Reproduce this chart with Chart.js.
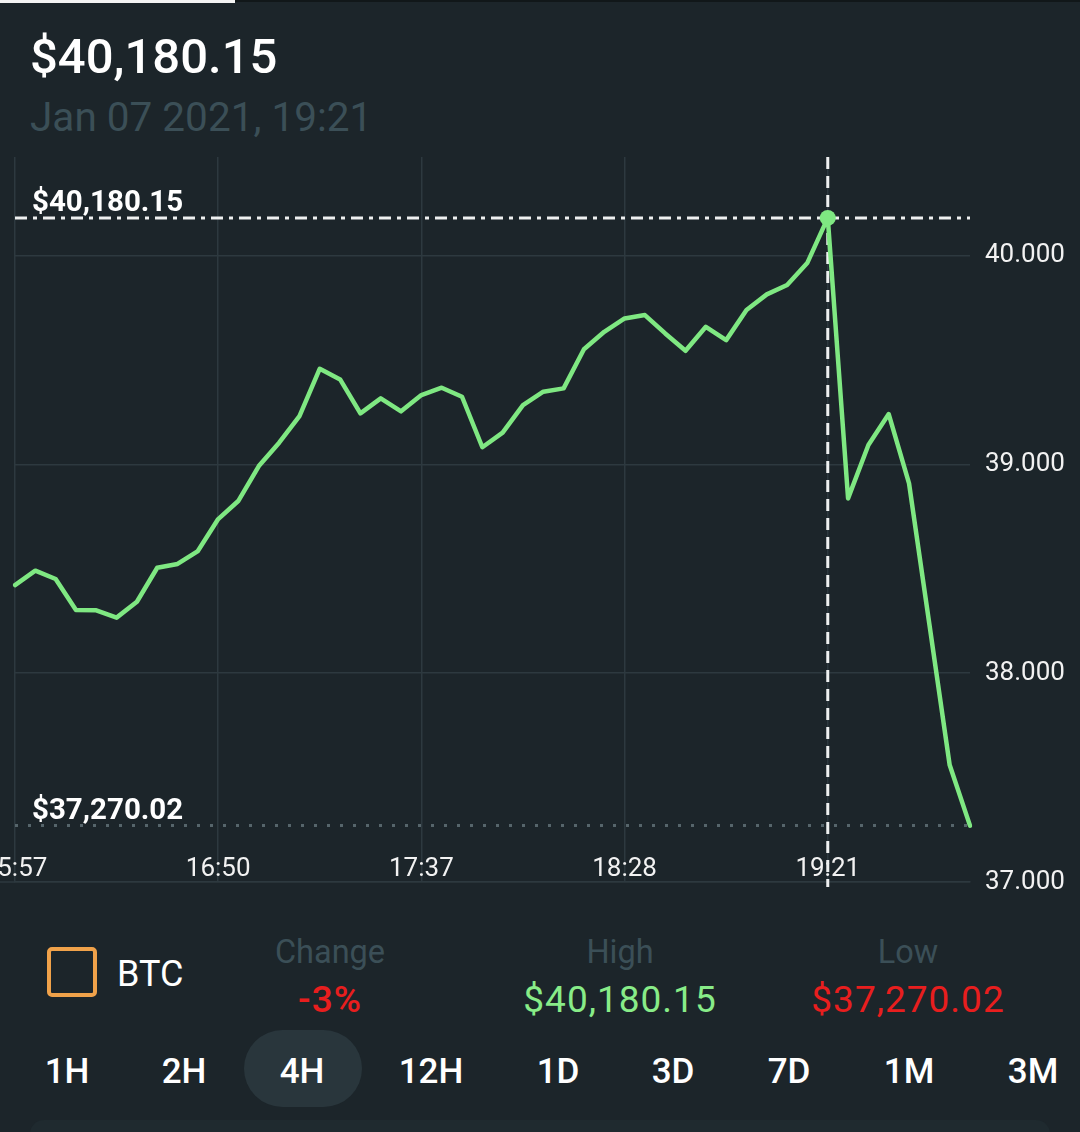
<!DOCTYPE html>
<html>
<head>
<meta charset="utf-8">
<script src="https://cdn.jsdelivr.net/npm/chart.js@4.4.1/dist/chart.umd.min.js"></script>
<style>
  html, body { margin:0; padding:0; }
  body { width:1080px; height:1132px; background:#1c252a; position:relative; overflow:hidden; font-family:Roboto, sans-serif; }
  .t { position:absolute; white-space:nowrap; }
  .c { transform:translateX(-50%); }
  #topbar1 { position:absolute; left:0; top:0; width:235px; height:3px; background:#f4f4f4; }
  #topbar2 { position:absolute; left:235px; top:0; width:845px; height:2px; background:#111719; }
  #chartWrap { position:absolute; left:0; top:140px; width:1080px; height:760px; }
  #sq { position:absolute; left:47px; top:947px; width:42px; height:42px; border:4px solid #f0a24a; border-radius:5px; }
  #pill { position:absolute; left:244px; top:1030px; width:118px; height:77px; border-radius:39px; background:#29363c; }
  #panel { position:absolute; left:30px; top:1120px; width:1020px; height:40px; border-radius:14px; background:#1f2a2f; }
</style>
</head>
<body>
<div id="topbar1"></div><div id="topbar2"></div>

<div class="t" data-b="73" style="left:30px;font:500 49px Roboto;color:#ffffff">$40,180.15</div>
<div class="t" data-b="131" style="left:30px;font:400 40.5px Roboto;color:#3b4f57">Jan 07 2021, 19:21</div>

<div id="chartWrap"><canvas id="chart" width="1080" height="760"></canvas></div>

<div id="sq"></div>
<div class="t" data-b="986" style="left:117px;font:400 36px Roboto;color:#ffffff">BTC</div>

<div class="t c" data-b="963" style="left:330px;font:400 32.5px Roboto;color:#3b4f57">Change</div>
<div class="t c" data-b="1012" style="left:330px;font:500 37px Roboto;letter-spacing:1px;color:#e81e1e">-3%</div>
<div class="t c" data-b="963" style="left:620px;font:400 32.5px Roboto;color:#3b4f57">High</div>
<div class="t c" data-b="1012" style="left:620px;font:400 37px Roboto;letter-spacing:1px;color:#88ec88">$40,180.15</div>
<div class="t c" data-b="963" style="left:908px;font:400 32.5px Roboto;color:#3b4f57">Low</div>
<div class="t c" data-b="1012" style="left:908px;font:400 37px Roboto;letter-spacing:1px;color:#e81e1e">$37,270.02</div>

<div id="pill"></div>
<div id="ranges"></div>
<div id="panel"></div>

<script>
// ---- data ----
const prices = [38422, 38491, 38451, 38303, 38301, 38266, 38342, 38505, 38523, 38585,
                38738, 38826, 38992, 39104, 39231, 39458, 39407, 39244, 39316, 39254,
                39332, 39367, 39324, 39082, 39152, 39284, 39348, 39364, 39551, 39635,
                39699, 39715, 39627, 39544, 39659, 39595, 39739, 39814, 39859, 39966,
                40180.15, 38837, 39093, 39241, 38909, 38235, 37560, 37270.02];
const tickLabels = ['15:57', '16:50', '17:37', '18:28', '19:21'];
const tickEvery = 10;
const yTicks = [37000, 38000, 39000, 40000];
const yMin = 37000, yMax = 40472;
const ranges = ['1H', '2H', '4H', '12H', '1D', '3D', '7D', '1M', '3M'];
const rangeCenters = [67, 184, 302, 431, 558, 673, 789, 909, 1033];

const labels = prices.map((_, i) => (i % tickEvery === 0 && tickLabels[i / tickEvery]) ? tickLabels[i / tickEvery] : '');
const HIGH = Math.max(...prices), LOW = Math.min(...prices);
const HIGH_INDEX = prices.indexOf(HIGH);

const GREEN = '#7fe882';
const GRID = '#2d393f';
const fmtDot = v => String(Math.round(v)).replace(/\B(?=(\d{3})+(?!\d))/g, '.');
const fmtUSD = v => '$' + v.toFixed(2).replace(/\B(?=(\d{3})+(?!\d))/g, ',');

// range buttons
const rWrap = document.getElementById('ranges');
ranges.forEach((r, i) => {
  const d = document.createElement('div');
  d.className = 't c';
  d.dataset.b = 1083;
  d.style.left = rangeCenters[i] + 'px';
  d.style.font = '500 35px Roboto';
  d.style.color = '#ffffff';
  d.textContent = r;
  rWrap.appendChild(d);
});

// baseline positioning for html text
(function () {
  const mc = document.createElement('canvas').getContext('2d');
  document.querySelectorAll('.t').forEach(el => {
    const cs = getComputedStyle(el);
    const size = parseFloat(cs.fontSize);
    mc.font = cs.fontWeight + ' ' + cs.fontSize + ' ' + cs.fontFamily;
    const m = mc.measureText(el.textContent);
    const A = m.fontBoundingBoxAscent, D = m.fontBoundingBoxDescent;
    el.style.lineHeight = size + 'px';
    const top = parseFloat(el.dataset.b) - ((size - (A + D)) / 2 + A);
    el.style.top = top + 'px';
  });
})();

const marks = {
  id: 'marks',
  beforeDatasetsDraw(chart) {
    const { ctx, chartArea: a, scales: { x, y } } = chart;
    const yh = y.getPixelForValue(HIGH), yl = y.getPixelForValue(LOW), xh = x.getPixelForValue(HIGH_INDEX);
    ctx.save();
    ctx.lineCap = 'butt';
    // extend bottom axis line to the left edge
    ctx.strokeStyle = GRID; ctx.lineWidth = 1.5;
    ctx.beginPath(); ctx.moveTo(0, a.bottom); ctx.lineTo(a.left, a.bottom); ctx.stroke();
    // low dotted line
    ctx.strokeStyle = '#56656b'; ctx.lineWidth = 3; ctx.setLineDash([3, 10]);
    ctx.beginPath(); ctx.moveTo(a.left, yl); ctx.lineTo(a.right, yl); ctx.stroke();
    // high dash-dot line
    ctx.strokeStyle = '#eef0f0'; ctx.lineWidth = 3; ctx.setLineDash([12, 6, 4, 6]);
    ctx.beginPath(); ctx.moveTo(a.left, yh); ctx.lineTo(a.right, yh); ctx.stroke();
    // vertical dashed line
    ctx.setLineDash([12, 7]);
    ctx.beginPath(); ctx.moveTo(xh, a.top); ctx.lineTo(xh, a.bottom + 5); ctx.stroke();
    // labels
    ctx.setLineDash([]);
    ctx.fillStyle = '#ffffff';
    ctx.font = 'bold 29.5px Roboto';
    ctx.textAlign = 'left'; ctx.textBaseline = 'alphabetic';
    ctx.fillText(fmtUSD(HIGH), a.left + 17, yh - 7);
    ctx.fillText(fmtUSD(LOW), a.left + 17, yl - 7);
    ctx.restore();
  }
};

new Chart(document.getElementById('chart'), {
  type: 'line',
  data: {
    labels,
    datasets: [{
      data: prices,
      borderColor: GREEN,
      borderWidth: 4.5,
      tension: 0,
      borderJoinStyle: 'round',
      borderCapStyle: 'round',
      pointRadius: prices.map((_, i) => i === HIGH_INDEX ? 8 : 0),
      pointBackgroundColor: GREEN,
      pointBorderWidth: 0,
      pointHoverRadius: 0,
      fill: false
    }]
  },
  options: {
    responsive: false,
    animation: false,
    events: [],
    layout: { padding: { top: 17, left: 15, right: 0, bottom: 0 } },
    plugins: { legend: { display: false }, tooltip: { enabled: false } },
    scales: {
      x: {
        type: 'category',
        offset: false,
        grid: { color: c => labels[c.index] ? GRID : 'transparent', lineWidth: 1.5, drawTicks: false },
        border: { display: true, color: GRID, width: 1.5 },
        ticks: {
          autoSkip: false, maxRotation: 0, minRotation: 0, mirror: true, padding: -3,
          color: '#f2f2f2', font: { family: 'Roboto', size: 26 },
          callback: (v, i) => labels[i]
        },
        afterFit: s => { s.paddingLeft = 0; s.paddingRight = 0; s.height = 18; }
      },
      y: {
        position: 'right',
        min: yMin, max: yMax,
        afterBuildTicks: s => { s.ticks = yTicks.map(v => ({ value: v })); },
        grid: { color: GRID, lineWidth: 1.5, drawTicks: false },
        border: { display: false },
        ticks: {
          padding: 15, color: '#f2f2f2', font: { family: 'Roboto', size: 26 },
          callback: v => fmtDot(v)
        },
        afterFit: s => { s.width = 110; s.paddingTop = 0; s.paddingBottom = 0; }
      }
    }
  },
  plugins: [marks]
});
</script>
</body>
</html>
